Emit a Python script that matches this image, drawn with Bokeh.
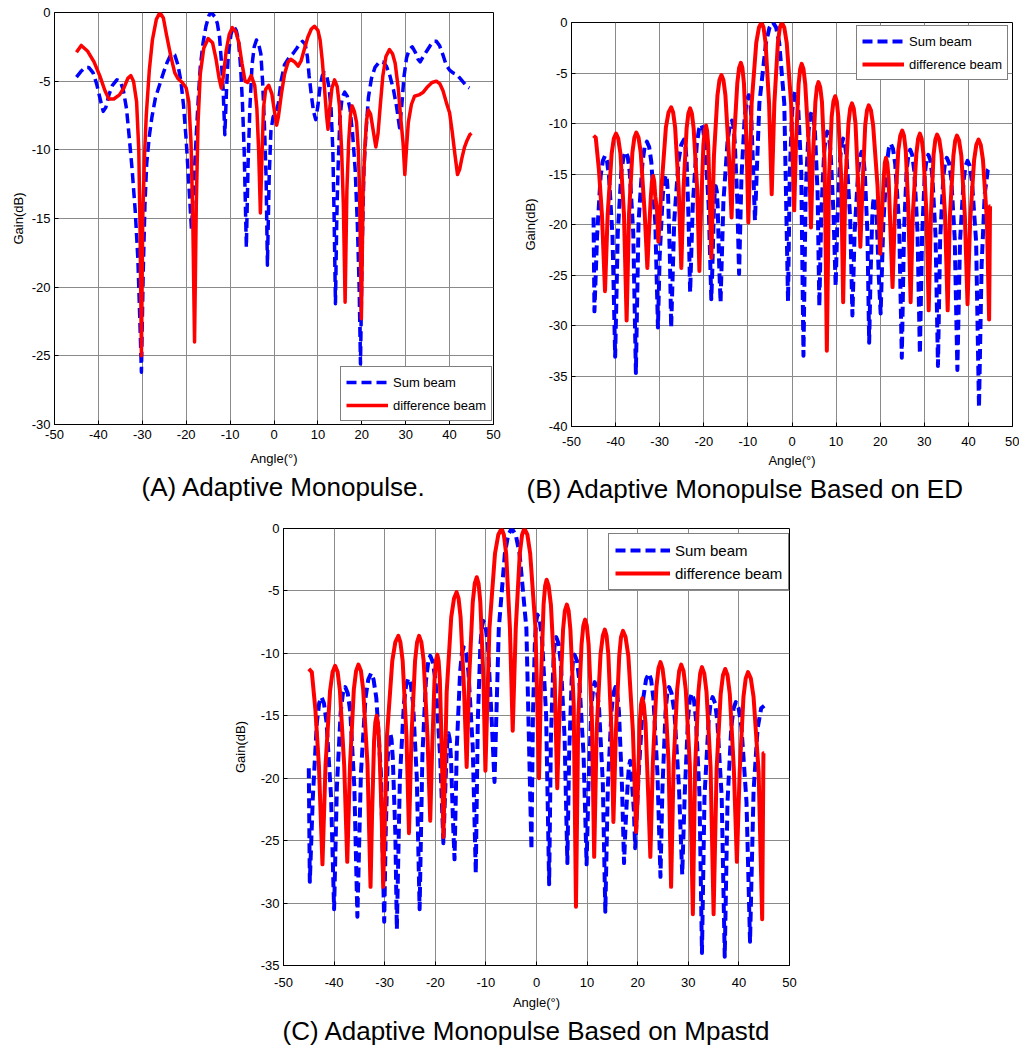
from bokeh.plotting import figure
from bokeh.models import Range1d, FixedTicker, Legend, LegendItem, Title, Spacer, LinearAxis
from bokeh.layouts import row, column
from bokeh.embed import file_html
from bokeh.resources import INLINE

FONT = "Liberation Sans"

# ---------------- data ----------------
x_ticks = [-50, -40, -30, -20, -10, 0, 10, 20, 30, 40, 50]
a_y_ticks = [-30, -25, -20, -15, -10, -5, 0]
b_y_ticks = [-40, -35, -30, -25, -20, -15, -10, -5, 0]
c_y_ticks = [-35, -30, -25, -20, -15, -10, -5, 0]

captions = ["(A) Adaptive Monopulse.",
            "(B) Adaptive Monopulse Based on ED",
            "(C) Adaptive Monopulse Based on Mpastd"]
series_names = ["Sum beam", "difference beam"]

# Panel A
a_sum_x = [-45.0, -44.0, -43.0, -42.2, -41.2, -40.4, -39.6, -38.9, -38.3, -37.6, -36.8, -35.8, -35.0, -34.3, -33.6,
           -33.0, -32.3, -31.6, -31.0, -30.6, -30.2, -29.8, -29.4, -29.0, -28.4, -27.8, -27.0, -26.0, -25.2, -24.3,
           -23.4, -22.6, -21.9, -21.2, -20.6, -20.0, -19.4, -18.8, -18.2, -17.7, -17.2, -16.8, -16.2, -15.5, -14.8,
           -14.3, -13.5, -12.9, -12.4, -12.0, -11.6, -11.2, -10.8, -10.4, -9.8, -9.2, -8.6, -8.1, -7.6, -7.2,
           -6.8, -6.3, -5.9, -5.5, -5.0, -4.5, -4.0, -3.5, -3.0, -2.6, -2.2, -1.8, -1.5, -1.1, -0.7,
           -0.2, 0.5, 1.0, 1.6, 2.4, 3.4, 4.3, 5.2, 5.8, 6.5, 7.1, 7.6, 8.0, 8.5, 9.0,
           9.5, 10.0, 10.5, 11.0, 11.5, 12.0, 12.5, 13.0, 13.4, 13.7, 14.0, 14.3, 14.6, 15.0, 15.5,
           16.1, 16.7, 17.3, 17.9, 18.5, 19.0, 19.4, 19.7, 20.1, 20.5, 21.0, 21.5, 22.2, 23.0, 24.0,
           24.8, 25.6, 26.4, 27.2, 27.9, 28.6, 29.1, 29.6, 30.2, 30.8, 31.5, 32.2, 32.8, 33.3, 34.0,
           34.8, 35.6, 36.4, 37.0, 37.7, 38.5, 39.2, 40.0, 40.8, 41.6, 42.4, 43.2, 44.0, 44.5]
a_sum_y = [-4.7, -4.3, -4.0, -4.0, -4.4, -5.2, -6.3, -7.2, -6.9, -6.0, -5.3, -4.9, -5.0, -5.7, -7.0,
           -9.0, -11.5, -14.5, -18.0, -22.0, -26.2, -19.0, -14.0, -11.0, -9.0, -7.6, -6.2, -5.2, -4.4, -3.6,
           -3.0, -3.1, -3.8, -5.0, -6.8, -9.3, -12.5, -15.8, -12.0, -8.9, -6.0, -4.0, -2.3, -1.0, -0.2,
           0.0, -0.3, -0.8, -1.8, -3.5, -5.5, -8.9, -5.5, -3.0, -1.6, -1.0, -1.3, -2.0, -4.0, -6.5,
           -10.0, -17.1, -11.0, -7.0, -3.8, -2.5, -2.0, -2.3, -3.0, -5.0, -8.0, -12.0, -18.4, -12.0, -8.6,
           -7.6, -7.2, -6.6, -5.0, -3.8, -3.3, -3.0, -2.6, -2.3, -2.1, -2.3, -3.2, -4.6, -6.0, -7.2,
           -7.8, -6.8, -5.4, -4.6, -4.4, -4.6, -5.4, -7.0, -10.0, -15.0, -21.2, -15.0, -11.3, -7.8, -6.2,
           -5.8, -6.1, -7.0, -8.8, -11.5, -15.5, -20.0, -25.6, -17.0, -11.3, -8.5, -6.2, -4.8, -4.0, -3.6,
           -3.6, -3.9, -4.6, -5.6, -6.8, -8.4, -6.8, -4.7, -3.3, -2.7, -2.5, -2.9, -3.4, -3.6, -3.2,
           -2.8, -2.4, -2.1, -2.1, -2.4, -3.1, -3.8, -4.2, -4.4, -4.5, -4.8, -5.1, -5.4, -5.5]
a_diff_x = [-45.0, -43.9, -42.5, -41.0, -39.7, -38.5, -37.6, -36.5, -35.2, -34.2, -33.3, -32.6, -32.0, -31.3, -30.8,
            -30.5, -30.2, -29.9, -29.5, -29.1, -28.4, -27.7, -26.8, -26.0, -25.2, -24.5, -23.5, -22.6, -21.9, -20.9,
            -20.0, -19.4, -18.9, -18.5, -18.1, -17.7, -17.3, -16.8, -16.0, -15.0, -14.0, -13.2, -12.5, -12.0, -11.5,
            -10.9, -10.2, -9.5, -8.7, -8.0, -7.3, -6.6, -6.0, -5.2, -4.4, -3.9, -3.5, -3.1, -2.7, -2.4,
            -1.9, -1.2, -0.5, 0.2, 0.6, 1.0, 1.7, 2.4, 3.2, 3.8, 4.7, 5.5, 6.2, 6.8, 7.7,
            8.5, 9.2, 10.0, 10.5, 11.0, 11.5, 12.0, 12.3, 12.7, 13.2, 13.8, 14.4, 14.9, 15.4, 15.8,
            16.2, 16.6, 17.0, 17.4, 17.8, 18.3, 18.8, 19.2, 19.5, 19.9, 20.3, 20.7, 21.1, 21.5, 22.0,
            22.5, 23.2, 23.7, 24.2, 24.8, 25.5, 26.3, 27.0, 27.6, 28.3, 28.9, 29.4, 29.8, 30.2, 30.6,
            31.3, 32.0, 33.0, 34.0, 35.0, 36.0, 37.0, 37.8, 38.5, 39.3, 40.0, 40.6, 41.2, 41.8, 42.3,
            42.8, 43.4, 44.0, 44.6, 45.0]
a_diff_y = [-2.9, -2.4, -2.8, -3.6, -4.6, -5.7, -6.3, -6.3, -6.0, -5.5, -4.8, -4.6, -5.0, -6.5, -10.0,
            -16.0, -25.0, -15.0, -10.5, -7.5, -4.2, -2.0, -0.5, 0.0, -0.4, -1.6, -3.2, -4.4, -4.8, -5.1,
            -5.5, -6.5, -9.5, -15.0, -24.0, -14.0, -8.0, -4.5, -2.6, -1.9, -2.2, -3.4, -4.8, -5.5, -4.6,
            -2.8, -1.6, -1.1, -1.4, -2.2, -3.7, -5.0, -5.1, -4.6, -5.3, -7.0, -10.0, -14.6, -10.0, -7.0,
            -5.6, -5.3, -5.9, -7.4, -8.2, -7.6, -5.9, -4.5, -3.6, -3.4, -3.6, -3.9, -3.5, -2.8, -1.8,
            -1.2, -1.0, -1.3, -2.0, -3.5, -5.5, -7.6, -8.5, -7.0, -5.5, -4.9, -5.4, -6.8, -10.0, -14.0,
            -21.1, -13.0, -9.5, -7.5, -6.8, -7.2, -8.0, -10.0, -13.0, -22.3, -13.0, -9.8, -7.8, -7.1, -7.4,
            -8.4, -9.8, -8.8, -6.8, -4.6, -3.2, -2.7, -3.0, -3.7, -5.5, -7.8, -9.5, -11.8, -9.8, -8.0,
            -6.7, -6.1, -6.0, -5.8, -5.4, -5.1, -5.0, -5.2, -5.7, -6.6, -7.3, -8.7, -10.3, -11.8, -11.4,
            -10.6, -9.8, -9.3, -8.9, -8.8]

# Panel B
b_sum_x = [-45.0, -44.8,
           -44.2, -43.4, -42.9, -42.4, -41.95, -41.5, -40.7, -40.1,
           -39.5, -38.7, -38.2, -37.7, -37.25, -36.8, -36.0, -35.4,
           -34.8, -33.9, -33.4, -32.9, -32.4, -31.9, -31.0, -30.4,
           -30.0, -29.3, -28.95, -28.6, -28.35, -28.1, -27.7, -27.4,
           -26.7, -25.7, -25.1, -24.5, -24.2, -23.9, -23.45, -23.1,
           -22.5, -21.6, -21.1, -20.6, -20.15, -19.7, -18.9, -18.3,
           -18.05, -17.7, -17.5, -17.3, -17.05, -16.85, -16.5, -16.2,
           -15.55, -14.6, -14.1, -13.6, -13.3, -13.0, -12.4, -12.0,
           -11.45, -10.7, -10.25, -9.8, -9.5, -9.25, -8.75, -8.4,
           -7.4, -5.9, -5.1, -4.3, -3.6, -2.9, -1.75, -0.9,
           -0.5, 0.05, 0.4, 0.7, 1.1, 1.45, 2.1, 2.6,
           3.1, 3.75, 4.1, 4.5, 4.85, 5.2, 5.8, 6.2,
           6.65, 7.3, 7.65, 8.0, 8.4, 8.75, 9.4, 9.9,
           10.3, 10.9, 11.25, 11.6, 12.0, 12.4, 13.2, 13.7,
           14.2, 15.0, 15.4, 15.8, 16.15, 16.5, 17.1, 17.5,
           17.8, 18.2, 18.4, 18.6, 18.9, 19.2, 19.7, 20.1,
           20.7, 21.5, 21.95, 22.4, 22.9, 23.4, 24.3, 24.9,
           25.4, 26.0, 26.4, 26.8, 27.25, 27.7, 28.45, 29.0,
           29.5, 30.1, 30.5, 30.9, 31.35, 31.8, 32.55, 33.1,
           33.6, 34.3, 34.7, 35.1, 35.6, 36.1, 36.9, 37.5,
           38.1, 38.9, 39.35, 39.8, 40.3, 40.8, 41.75, 42.4,
           43.0, 43.7, 44.4, 45.0]
b_sum_y = [-19.3, -28.6,
           -21.2, -15.2, -13.7, -13.2, -13.7, -15.2, -21.2, -33.1,
           -20.8, -14.8, -13.3, -12.8, -13.3, -14.8, -20.8, -34.7,
           -19.8, -13.8, -12.3, -11.8, -12.3, -13.8, -19.8, -30.2,
           -23.1, -17.1, -15.6, -15.1, -15.6, -17.1, -23.1, -30.2,
           -19.6, -13.6, -12.1, -11.6, -12.1, -13.6, -19.6, -26.7,
           -18.1, -12.1, -10.6, -10.1, -10.6, -12.1, -18.1, -27.4,
           -24.2, -18.2, -16.7, -16.2, -16.7, -18.2, -24.2, -27.7,
           -17.7, -11.7, -10.2, -9.7, -10.2, -11.7, -17.7, -24.9,
           -15.2, -9.2, -7.7, -7.2, -7.7, -9.2, -15.2, -19.6,
           -8.0, -2.0, -0.5, 0.0, -0.5, -2.0, -8.0, -27.6,
           -14.8, -8.8, -7.3, -6.8, -7.3, -8.8, -14.8, -33.0,
           -16.8, -10.8, -9.3, -8.8, -9.3, -10.8, -16.8, -28.1,
           -18.8, -12.8, -11.3, -10.8, -11.3, -12.8, -18.8, -26.1,
           -19.5, -13.5, -12.0, -11.5, -12.0, -13.5, -19.5, -29.0,
           -20.8, -14.8, -13.3, -12.8, -13.3, -14.8, -20.8, -31.7,
           -25.3, -19.3, -17.8, -17.3, -17.8, -19.3, -25.3, -28.8,
           -20.0, -14.0, -12.5, -12.0, -12.5, -14.0, -20.0, -33.2,
           -20.6, -14.6, -13.1, -12.6, -13.1, -14.6, -20.6, -32.8,
           -21.1, -15.1, -13.6, -13.1, -13.6, -15.1, -21.1, -34.0,
           -21.4, -15.4, -13.9, -13.4, -13.9, -15.4, -21.4, -34.4,
           -21.7, -15.7, -14.2, -13.7, -14.2, -15.7, -21.7, -38.1,
           -24.0, -17.0, -14.6, -14.2]
b_diff_x = [-45.0, -44.5, -43.8, -43.1, -42.4,
            -41.8, -40.9, -40.4, -39.9, -39.4, -38.9, -38.1, -37.5,
            -36.95, -36.2, -35.75, -35.3, -34.8, -34.3, -33.4, -32.8,
            -32.5, -32.0, -31.75, -31.5, -31.25, -31.0, -30.6, -30.3,
            -29.6, -28.6, -28.0, -27.4, -26.95, -26.5, -25.7, -25.1,
            -24.6, -23.9, -23.5, -23.1, -22.7, -22.3, -21.5, -21.0,
            -20.6, -20.1, -19.8, -19.5, -19.25, -19.0, -18.6, -18.3,
            -17.7, -16.9, -16.45, -16.0, -15.55, -15.1, -14.3, -13.7,
            -13.2, -12.4, -12.0, -11.6, -11.25, -10.9, -10.3, -9.9,
            -9.15, -8.1, -7.5, -6.9, -6.45, -6.0, -5.2, -4.6,
            -4.0, -3.2, -2.75, -2.3, -1.75, -1.2, -0.2, 0.5,
            0.9, 1.5, 1.85, 2.2, 2.6, 3.0, 3.8, 4.3,
            4.7, 5.3, 5.65, 6.0, 6.4, 6.8, 7.4, 7.9,
            8.4, 9.0, 9.4, 9.8, 10.15, 10.5, 11.15, 11.6,
            12.1, 12.8, 13.2, 13.6, 14.0, 14.4, 15.0, 15.5,
            16.0, 16.6, 17.0, 17.4, 17.9, 18.4, 19.4, 20.0,
            20.3, 20.8, 21.05, 21.3, 21.6, 21.9, 22.4, 22.8,
            23.35, 24.1, 24.55, 25.0, 25.4, 25.8, 26.4, 26.9,
            27.4, 28.2, 28.6, 29.0, 29.4, 29.8, 30.5, 31.0,
            31.5, 32.1, 32.5, 32.9, 33.4, 33.9, 34.7, 35.3,
            35.8, 36.6, 37.0, 37.4, 37.9, 38.4, 39.2, 39.8,
            40.4, 41.3, 41.8, 42.3, 42.8, 43.3, 44.2, 44.7,
            44.9, 45.0]
b_diff_y = [-11.2, -11.4, -14.5, -19.0, -26.6,
            -19.0, -13.0, -11.5, -11.0, -11.5, -13.0, -19.0, -29.5,
            -18.9, -12.9, -11.4, -10.9, -11.4, -12.9, -18.9, -24.3,
            -21.3, -17.2, -15.7, -15.2, -15.7, -17.2, -18.7, -21.7,
            -16.4, -10.4, -8.9, -8.4, -8.9, -10.4, -16.4, -24.3,
            -16.5, -10.5, -9.0, -8.5, -9.0, -10.5, -16.5, -24.6,
            -18.2, -12.2, -10.7, -10.2, -10.7, -12.2, -18.2, -23.3,
            -13.2, -7.2, -5.7, -5.2, -5.7, -7.2, -13.2, -19.3,
            -12.0, -6.0, -4.5, -4.0, -4.5, -6.0, -12.0, -19.8,
            -8.0, -2.0, -0.5, 0.0, -0.5, -2.0, -8.0, -17.0,
            -8.0, -2.0, -0.5, 0.0, -0.5, -2.0, -8.0, -18.6,
            -12.1, -6.1, -4.6, -4.1, -4.6, -6.1, -12.1, -20.3,
            -13.9, -7.9, -6.4, -5.9, -6.4, -7.9, -13.9, -32.5,
            -15.3, -9.3, -7.8, -7.3, -7.8, -9.3, -15.3, -27.7,
            -16.0, -10.0, -8.5, -8.0, -8.5, -10.0, -16.0, -22.2,
            -16.2, -10.2, -8.7, -8.2, -8.7, -10.2, -16.2, -22.9,
            -19.9, -15.4, -13.9, -13.4, -13.9, -15.4, -21.4, -26.2,
            -18.7, -12.7, -11.2, -10.7, -11.2, -12.7, -18.7, -27.7,
            -19.0, -13.0, -11.5, -11.0, -11.5, -13.0, -19.0, -28.5,
            -19.1, -13.1, -11.6, -11.1, -11.6, -13.1, -19.1, -28.5,
            -19.2, -13.2, -11.7, -11.2, -11.7, -13.2, -19.2, -27.9,
            -19.6, -13.6, -12.1, -11.6, -12.1, -13.6, -19.6, -29.4,
            -18.2, -18.2]

# Panel C
c_sum_x = [-45.0, -44.8,
           -44.2, -43.4, -42.95, -42.5, -42.0, -41.5, -40.6, -40.0,
           -39.45, -38.7, -38.25, -37.8, -37.3, -36.8, -36.0, -35.4,
           -34.7, -33.8, -33.25, -32.7, -32.2, -31.65, -30.75, -30.1,
           -29.8, -29.4, -29.15, -28.9, -28.65, -28.4, -27.9, -27.6,
           -27.0, -26.2, -25.75, -25.3, -24.85, -24.4, -23.65, -23.1,
           -22.55, -21.85, -21.4, -21.0, -20.5, -19.95, -19.05, -18.4,
           -18.15, -17.8, -17.6, -17.4, -17.15, -16.9, -16.5, -16.2,
           -15.75, -15.1, -14.75, -14.4, -13.9, -13.45, -12.6, -12.0,
           -11.6, -11.1, -10.8, -10.5, -10.05, -9.6, -8.85, -8.3,
           -7.45, -6.25, -5.6, -4.9, -4.1, -3.35, -2.0, -1.0,
           -0.7, -0.3, -0.05, 0.2, 0.65, 1.1, 1.9, 2.5,
           2.85, 3.35, 3.6, 3.9, 4.35, 4.8, 5.55, 6.1,
           6.45, 6.95, 7.2, 7.5, 8.0, 8.45, 9.3, 9.9,
           10.3, 10.85, 11.2, 11.5, 11.9, 12.35, 13.1, 13.6,
           14.1, 14.8, 15.2, 15.6, 15.95, 16.3, 16.9, 17.3,
           17.6, 18.0, 18.25, 18.5, 18.7, 18.9, 19.25, 19.5,
           20.2, 21.1, 21.65, 22.2, 22.65, 23.1, 23.9, 24.5,
           24.9, 25.5, 25.85, 26.2, 26.7, 27.25, 28.15, 28.8,
           29.3, 29.95, 30.3, 30.7, 31.1, 31.5, 32.2, 32.7,
           33.2, 34.0, 34.4, 34.8, 35.3, 35.75, 36.6, 37.2,
           37.75, 38.5, 38.95, 39.4, 39.95, 40.5, 41.5, 42.2,
           42.9, 43.7, 44.4, 45.0]
c_sum_y = [-19.2, -28.3,
           -21.5, -15.5, -14.0, -13.5, -14.0, -15.5, -21.5, -30.5,
           -20.7, -14.7, -13.2, -12.7, -13.2, -14.7, -20.7, -31.1,
           -19.6, -13.6, -12.1, -11.6, -12.1, -13.6, -19.6, -31.5,
           -24.4, -18.4, -16.9, -16.4, -16.9, -18.4, -24.4, -32.1,
           -20.0, -14.0, -12.5, -12.0, -12.5, -14.0, -20.0, -30.5,
           -18.2, -12.2, -10.7, -10.2, -10.7, -12.2, -18.2, -25.2,
           -22.2, -18.4, -16.9, -16.4, -16.9, -18.4, -23.5, -26.5,
           -17.5, -11.5, -10.0, -9.5, -10.0, -11.5, -17.5, -27.6,
           -15.4, -9.4, -7.9, -7.4, -7.9, -9.4, -15.4, -20.3,
           -8.0, -2.0, -0.5, 0.0, -0.5, -2.0, -8.0, -25.7,
           -14.9, -8.9, -7.4, -6.9, -7.4, -8.9, -14.9, -28.5,
           -16.7, -10.7, -9.2, -8.7, -9.2, -10.7, -16.7, -26.8,
           -18.1, -12.1, -10.6, -10.1, -10.6, -12.1, -18.1, -26.9,
           -20.3, -14.3, -12.8, -12.3, -12.8, -14.3, -20.3, -30.7,
           -20.7, -14.7, -13.2, -12.7, -13.2, -14.7, -20.7, -26.8,
           -23.8, -20.6, -19.1, -18.6, -19.1, -20.6, -22.6, -25.6,
           -19.6, -13.6, -12.1, -11.6, -12.1, -13.6, -19.6, -27.9,
           -20.7, -14.7, -13.2, -12.7, -13.2, -14.7, -20.7, -27.7,
           -21.2, -15.2, -13.7, -13.2, -13.7, -15.2, -21.2, -34.0,
           -21.5, -15.5, -14.0, -13.5, -14.0, -15.5, -21.5, -34.3,
           -21.9, -15.9, -14.4, -13.9, -14.4, -15.9, -21.9, -33.1,
           -21.0, -16.0, -14.4, -14.2]
c_diff_x = [-45.0, -44.4, -43.7, -43.0, -42.3,
            -41.7, -40.8, -40.3, -39.8, -39.3, -38.85, -38.0, -37.4,
            -36.85, -36.1, -35.65, -35.2, -34.7, -34.25, -33.4, -32.8,
            -32.5, -32.1, -31.85, -31.6, -31.35, -31.1, -30.6, -30.3,
            -29.55, -28.5, -27.9, -27.3, -26.9, -26.45, -25.7, -25.2,
            -24.7, -24.0, -23.6, -23.2, -22.75, -22.3, -21.55, -21.0,
            -20.65, -20.15, -19.9, -19.6, -19.35, -19.1, -18.7, -18.4,
            -17.75, -16.85, -16.3, -15.8, -15.4, -15.0, -14.3, -13.8,
            -13.3, -12.6, -12.2, -11.8, -11.45, -11.1, -10.5, -10.1,
            -9.3, -8.2, -7.55, -6.9, -6.45, -6.0, -5.25, -4.7,
            -4.1, -3.3, -2.85, -2.4, -1.8, -1.25, -0.2, 0.5,
            0.9, 1.4, 1.7, 2.0, 2.4, 2.85, 3.6, 4.1,
            4.6, 5.25, 5.6, 6.0, 6.35, 6.7, 7.35, 7.8,
            8.25, 8.9, 9.25, 9.6, 9.95, 10.3, 10.95, 11.4,
            11.9, 12.65, 13.1, 13.5, 13.85, 14.2, 14.8, 15.2,
            15.7, 16.35, 16.7, 17.1, 17.6, 18.15, 19.05, 19.7,
            20.0, 20.4, 20.65, 20.9, 21.2, 21.55, 22.1, 22.5,
            23.0, 23.7, 24.1, 24.5, 24.9, 25.35, 26.1, 26.6,
            27.1, 27.8, 28.2, 28.6, 29.05, 29.5, 30.3, 30.9,
            31.35, 32.0, 32.35, 32.7, 33.15, 33.6, 34.4, 35.0,
            35.6, 36.4, 36.85, 37.3, 37.75, 38.2, 39.0, 39.6,
            40.15, 40.9, 41.35, 41.8, 42.35, 42.9, 43.9, 44.6,
            44.85, 45.0]
c_diff_y = [-11.25, -11.5, -14.5, -19.0, -26.9,
            -19.0, -13.0, -11.5, -11.0, -11.5, -13.0, -19.0, -26.7,
            -18.9, -12.9, -11.4, -10.9, -11.4, -12.9, -18.9, -28.7,
            -23.0, -17.0, -15.5, -15.0, -15.5, -17.0, -23.0, -28.7,
            -16.6, -10.6, -9.1, -8.6, -9.1, -10.6, -16.6, -24.4,
            -16.6, -10.6, -9.1, -8.6, -9.1, -10.6, -16.6, -23.4,
            -18.1, -12.1, -10.6, -10.1, -10.6, -12.1, -18.1, -24.7,
            -13.1, -7.1, -5.6, -5.1, -5.6, -7.1, -13.1, -19.1,
            -11.9, -5.9, -4.4, -3.9, -4.4, -5.9, -11.9, -19.4,
            -8.0, -2.0, -0.5, 0.0, -0.5, -2.0, -8.0, -16.2,
            -8.0, -2.0, -0.5, 0.0, -0.5, -2.0, -8.0, -20.0,
            -12.1, -6.1, -4.6, -4.1, -4.6, -6.1, -12.1, -20.8,
            -14.1, -8.1, -6.6, -6.1, -6.6, -8.1, -14.1, -30.3,
            -15.3, -9.3, -7.8, -7.3, -7.8, -9.3, -15.3, -26.3,
            -16.1, -10.1, -8.6, -8.1, -8.6, -10.1, -16.1, -23.5,
            -16.2, -10.2, -8.7, -8.2, -8.7, -10.2, -16.2, -24.3,
            -21.3, -15.6, -14.1, -13.6, -14.1, -15.6, -21.6, -26.3,
            -18.7, -12.7, -11.2, -10.7, -11.2, -12.7, -18.7, -28.7,
            -18.9, -12.9, -11.4, -10.9, -11.4, -12.9, -18.9, -30.9,
            -19.1, -13.1, -11.6, -11.1, -11.6, -13.1, -19.1, -30.9,
            -19.25, -13.25, -11.75, -11.25, -11.75, -13.25, -19.25, -26.7,
            -19.5, -13.5, -12.0, -11.5, -12.0, -13.5, -19.5, -31.3,
            -18.0, -18.0]


def make_panel(width, height, bl, br, bt, bb, y_ticks, sum_x, sum_y, diff_x, diff_y,
               x_lab_standoff, x_axlab_standoff, y_axlab_standoff,
               legend_xy, legend_font, legend_glyph_w, legend_pad,
               caption, cap_offset, cap_gap, cap_standoff, lw):
    p = figure(width=width, height=height, x_range=Range1d(-50, 50),
               y_range=Range1d(min(y_ticks), 0), output_backend="svg",
               toolbar_location=None, title=None,
               min_border_left=bl, min_border_right=br, min_border_top=bt, min_border_bottom=bb,
               background_fill_color="white", border_fill_color="white")
    p.outline_line_color = "black"
    p.outline_line_width = 1
    p.outline_line_alpha = 1

    p.xaxis.ticker = FixedTicker(ticks=x_ticks)
    p.yaxis.ticker = FixedTicker(ticks=y_ticks)
    p.xaxis.major_label_overrides = {t: str(t) for t in x_ticks}
    p.yaxis.major_label_overrides = {t: str(t) for t in y_ticks}
    p.xaxis.axis_label = "Angle(°)"
    p.yaxis.axis_label = "Gain(dB)"
    for ax in (p.xaxis[0], p.yaxis[0]):
        ax.major_tick_in = 4
        ax.major_tick_out = 0
        ax.minor_tick_in = 0
        ax.minor_tick_out = 0
        ax.axis_line_color = "black"
        ax.major_tick_line_color = "black"
        ax.major_label_text_font = FONT
        ax.major_label_text_font_size = "13px"
        ax.major_label_text_color = "black"
        ax.axis_label_text_font = FONT
        ax.axis_label_text_font_size = "13px"
        ax.axis_label_text_font_style = "normal"
        ax.axis_label_text_color = "black"
    p.xaxis.major_label_standoff = x_lab_standoff
    p.xaxis.axis_label_standoff = x_axlab_standoff
    p.yaxis.major_label_standoff = 4
    p.yaxis.axis_label_standoff = y_axlab_standoff

    p.grid.grid_line_color = "#8a8a8a"
    p.grid.grid_line_width = 1

    rs = p.line(sum_x, sum_y, line_color="#0000ff", line_width=lw, line_dash="10 5",
                line_join="round")
    rd = p.line(diff_x, diff_y, line_color="#ff0000", line_width=lw, line_join="round")

    legend = Legend(items=[LegendItem(label=series_names[0], renderers=[rs]),
                           LegendItem(label=series_names[1], renderers=[rd])],
                    location=legend_xy, orientation="vertical",
                    label_text_font=FONT, label_text_font_size=legend_font,
                    label_text_color="black",
                    glyph_width=legend_glyph_w, glyph_height=20, label_height=20,
                    label_standoff=5, padding=legend_pad, spacing=3, margin=0,
                    border_line_color="black", border_line_width=1,
                    background_fill_color="white", background_fill_alpha=1)
    p.add_layout(legend)

    # empty gap between the axis label and the caption (no ticks drawn, no line, no text)
    gap = LinearAxis(ticker=FixedTicker(ticks=[]), major_tick_out=cap_gap, major_tick_in=0,
                     minor_tick_out=0, minor_tick_in=0, major_label_standoff=0,
                     axis_line_color=None, major_tick_line_color="white",
                     minor_tick_line_color=None)
    p.add_layout(gap, "below")

    p.add_layout(Title(text=caption, align="left", offset=cap_offset, standoff=cap_standoff,
                       text_font=FONT, text_font_size="26px", text_font_style="normal",
                       text_color="black"), "below")
    return p


pa = make_panel(512, 520, 54, 19, 12, 96, a_y_ticks, a_sum_x, a_sum_y, a_diff_x, a_diff_y,
                5, 9, 3, (286, 3), "13px", 42, 5, captions[0], 87, 18, 2, 3.5)
pb = make_panel(507, 510, 59, 7, 12, 94, b_y_ticks, b_sum_x, b_sum_y, b_diff_x, b_diff_y,
                10, 4, 8, (285, 346), "13px", 42, 5, captions[1], -45, 16, 2, 4)
pc = make_panel(571, 538, 55, 10, 8, 93, c_y_ticks, c_sum_x, c_sum_y, c_diff_x, c_diff_y,
                12, 5, 10, (325, 375), "15px", 55, 6, captions[2], -1, 12, 2, 4)

top = row(pa, column(Spacer(width=507, height=10), pb))
bottom = row(Spacer(width=228, height=10), pc)
layout = column(top, bottom)

open("out.html", "w").write(file_html(layout, INLINE))
